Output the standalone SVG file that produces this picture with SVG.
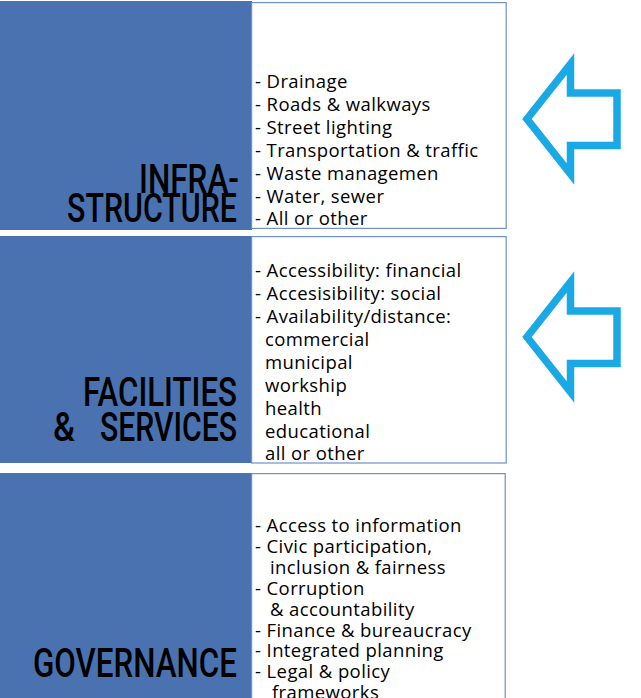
<svg xmlns="http://www.w3.org/2000/svg" xmlns:xlink="http://www.w3.org/1999/xlink" width="641" height="698" viewBox="0 0 641 698">
  <style>
    .panel { fill: #4b72b0; }
    .box { fill: #ffffff; stroke: #6f90cb; stroke-width: 1.2; }
    .title { font-family: Roboto, "Liberation Sans", sans-serif; font-weight: 500; font-size: 40px; fill: #000000; }
    .item { font-family: "Open Sans", Lato, sans-serif; font-size: 18.5px; letter-spacing: 0.4px; fill: #000000; }
    .arrow { fill: none; stroke: #1ba9e6; stroke-width: 7.5; stroke-linejoin: miter; stroke-miterlimit: 10; }
  </style>
  <defs>
    <path id="leftArrow" class="arrow" d="M 527 119 L 570.5 64 L 570.5 93 L 617 93 L 617 145.5 L 570.5 145.5 L 570.5 174 Z"/>
  </defs>
  <rect x="0" y="0" width="641" height="698" fill="#ffffff"/>

  <g id="infrastructure">
    <rect class="panel" x="0" y="1" width="252" height="229"/>
    <rect class="box" x="251.6" y="2.6" width="254.6" height="225.8"/>
    <text class="title"><tspan x="139" y="193" textLength="100" lengthAdjust="spacingAndGlyphs">INFRA-</tspan><tspan x="67" y="222" textLength="170" lengthAdjust="spacingAndGlyphs">STRUCTURE</tspan></text>
    <text class="item">
      <tspan x="255" y="88">- Drainage</tspan>
      <tspan x="255" y="111">- Roads &amp; walkways</tspan>
      <tspan x="255" y="134">- Street lighting</tspan>
      <tspan x="255" y="157">- Transportation &amp; traffic</tspan>
      <tspan x="255" y="180">- Waste managemen</tspan>
      <tspan x="255" y="203">- Water, sewer</tspan>
      <tspan x="255" y="225">- All or other</tspan>
    </text>
  </g>

  <g id="facilities-services">
    <rect class="panel" x="0" y="236" width="252" height="227"/>
    <rect class="box" x="251.6" y="236.6" width="254.6" height="226.4"/>
    <text class="title"><tspan x="83" y="406" textLength="154" lengthAdjust="spacingAndGlyphs">FACILITIES</tspan><tspan x="53" y="441" textLength="22" lengthAdjust="spacingAndGlyphs">&amp;</tspan><tspan x="100" y="441" textLength="137" lengthAdjust="spacingAndGlyphs">SERVICES</tspan></text>
    <text class="item">
      <tspan x="255" y="277">- Accessibility: financial</tspan>
      <tspan x="255" y="300">- Accesisibility: social</tspan>
      <tspan x="255" y="323">- Availability/distance:</tspan>
      <tspan x="265" y="346">commercial</tspan>
      <tspan x="265" y="369">municipal</tspan>
      <tspan x="265" y="392">workship</tspan>
      <tspan x="265" y="415">health</tspan>
      <tspan x="265" y="438">educational</tspan>
      <tspan x="265" y="460">all or other</tspan>
    </text>
  </g>

  <g id="governance">
    <rect class="panel" x="0" y="473" width="252" height="225"/>
    <rect class="box" x="251.6" y="473.6" width="253.6" height="230"/>
    <text class="title"><tspan x="33" y="677" textLength="204" lengthAdjust="spacingAndGlyphs">GOVERNANCE</tspan></text>
    <text class="item">
      <tspan x="255" y="532">- Access to information</tspan>
      <tspan x="255" y="553">- Civic participation,</tspan>
      <tspan x="270" y="574">inclusion &amp; fairness</tspan>
      <tspan x="255" y="595">- Corruption</tspan>
      <tspan x="270" y="616">&amp; accountability</tspan>
      <tspan x="255" y="637">- Finance &amp; bureaucracy</tspan>
      <tspan x="255" y="657">- Integrated planning</tspan>
      <tspan x="255" y="678">- Legal &amp; policy</tspan>
      <tspan x="272" y="699">frameworks</tspan>
    </text>
  </g>

  <g id="connectors">
    <use xlink:href="#leftArrow"/>
    <use xlink:href="#leftArrow" transform="translate(0,218)"/>
  </g>
</svg>
